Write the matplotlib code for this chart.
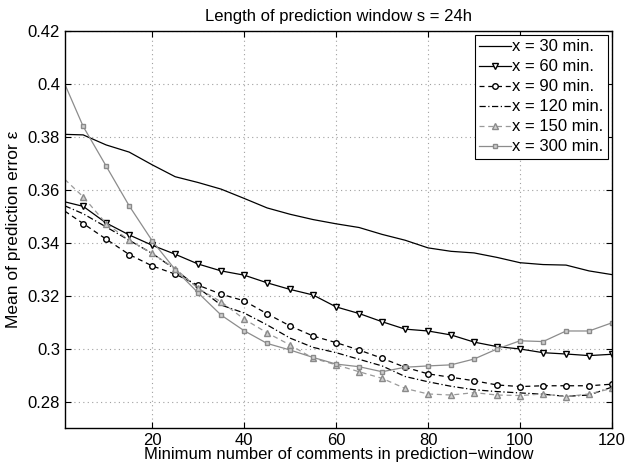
import matplotlib
matplotlib.use('Agg')
import matplotlib.pyplot as plt

# minimum number of comments in the prediction window
xs = [1, 5, 10, 15, 20, 25, 30, 35, 40, 45, 50, 55, 60,
      65, 70, 75, 80, 85, 90, 95, 100, 105, 110, 115, 120]

err_30 = [0.381, 0.3808, 0.377, 0.3743, 0.3695, 0.365, 0.3628, 0.3603, 0.3568,
          0.3532, 0.3508, 0.3488, 0.3472, 0.3458, 0.3432, 0.341, 0.3381, 0.3368,
          0.3362, 0.3345, 0.3325, 0.3318, 0.3316, 0.3294, 0.328]
err_60 = [0.3555, 0.3538, 0.3475, 0.343, 0.3391, 0.3357, 0.332, 0.3294, 0.3278,
          0.3249, 0.3224, 0.3203, 0.3158, 0.3133, 0.3102, 0.3074, 0.3067, 0.3052,
          0.3025, 0.3008, 0.2999, 0.2985, 0.298, 0.2974, 0.2979]
err_90 = [0.352, 0.3473, 0.3414, 0.3356, 0.3313, 0.3282, 0.324, 0.3206, 0.3181,
          0.3132, 0.3086, 0.3048, 0.3023, 0.2995, 0.2964, 0.293, 0.2905, 0.2892,
          0.2879, 0.2863, 0.2857, 0.286, 0.286, 0.286, 0.2866]
err_120 = [0.354, 0.351, 0.346, 0.341, 0.336, 0.330, 0.323, 0.3165, 0.3135,
           0.309, 0.304, 0.3005, 0.2985, 0.296, 0.2935, 0.2895, 0.2875, 0.2858,
           0.2845, 0.2838, 0.2833, 0.2828, 0.282, 0.2825, 0.2855]
err_150 = [0.364, 0.3574, 0.3473, 0.341, 0.336, 0.3303, 0.3228, 0.3177, 0.3112,
           0.306, 0.3014, 0.2964, 0.2939, 0.2913, 0.2888, 0.285, 0.2829, 0.2825,
           0.2834, 0.2825, 0.2823, 0.2829, 0.2819, 0.2829, 0.285]
err_300 = [0.400, 0.384, 0.369, 0.354, 0.3408, 0.3299, 0.3211, 0.3127, 0.3068,
           0.302, 0.2995, 0.2967, 0.2942, 0.2932, 0.2913, 0.293, 0.2935, 0.2939,
           0.2961, 0.2999, 0.303, 0.3027, 0.3067, 0.3067, 0.3098]

labels = ['x = 30 min.', 'x = 60 min.', 'x = 90 min.',
          'x = 120 min.', 'x = 150 min.', 'x = 300 min.']

plt.rcParams['font.family'] = ['Liberation Sans', 'DejaVu Sans']
plt.rcParams['font.size'] = 12

fig = plt.figure(figsize=(6.29, 4.72), dpi=100)
ax = fig.add_axes([0.103, 0.093, 0.870, 0.841])

mk = slice(1, None)		# markers every 5, the first point has none
ax.plot(xs, err_30, color='k', lw=0.9, label=labels[0])
ax.plot(xs, err_60, color='k', lw=0.9, marker='v', ms=4, mfc='white',
        mec='k', markevery=mk, label=labels[1])
ax.plot(xs, err_90, color='k', lw=0.9, ls=(0, (4, 3)), marker='o', ms=4,
        mfc='white', mec='k', markevery=mk, label=labels[2])
ax.plot(xs, err_120, color='k', lw=0.9, ls=(0, (5, 2, 1, 2)), label=labels[3])
ax.plot(xs, err_150, color='#9a9a9a', lw=0.9, ls=(0, (4, 3)), marker='^', ms=4,
        mfc='#d0d0d0', mec='#8a8a8a', markevery=mk, label=labels[4])
ax.plot(xs, err_300, color='#8c8c8c', lw=0.9, marker='s', ms=3.5,
        mfc='#d0d0d0', mec='#8a8a8a', markevery=mk, label=labels[5])

ax.set_xlim(1, 120)
ax.set_ylim(0.27, 0.42)
ax.set_xticks([20, 40, 60, 80, 100, 120])
ax.set_yticks([0.28, 0.3, 0.32, 0.34, 0.36, 0.38, 0.4, 0.42])
ax.set_yticklabels(['0.28', '0.3', '0.32', '0.34', '0.36', '0.38', '0.4', '0.42'])
ax.tick_params(direction='in', top=True, right=True, length=4, width=0.8, labelsize=12)
ax.grid(True, ls=(0, (1, 3)), color='#a0a0a0', lw=0.8)
for sp in ax.spines.values():
	sp.set_linewidth(1.0)

ax.set_xlabel('Minimum number of comments in prediction\u2212window', fontsize=12, labelpad=-1)
ax.set_ylabel('Mean of prediction error \u03b5', fontsize=12.5, labelpad=5)
ax.set_title('Length of prediction window s = 24h', fontsize=12, pad=7)

leg = ax.legend(loc='upper right', fontsize=12, handlelength=1.9, handletextpad=0.1,
                borderpad=0.25, labelspacing=0.3, borderaxespad=0.25, fancybox=False,
                framealpha=1)
leg.get_frame().set_edgecolor('k')
leg.get_frame().set_linewidth(0.8)

fig.savefig('out.png', dpi=100)
